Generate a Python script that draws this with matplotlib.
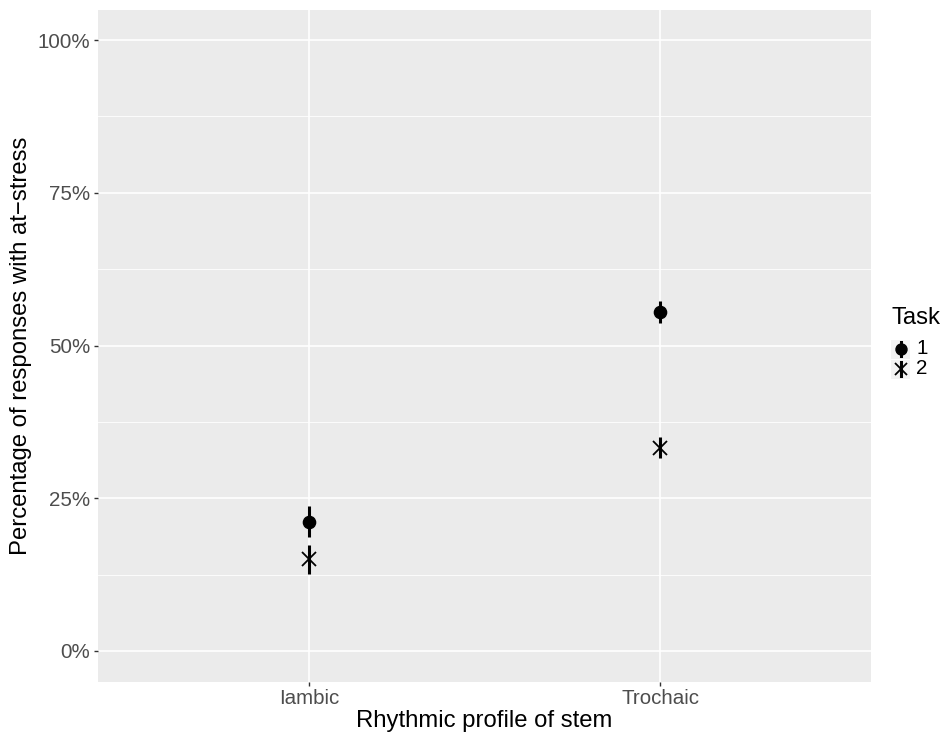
import matplotlib
matplotlib.use('Agg')
import matplotlib.pyplot as plt
from matplotlib.patches import Rectangle
from matplotlib.ticker import FixedLocator, PercentFormatter

plt.rcParams['font.family'] = ['Liberation Sans', 'DejaVu Sans']

# Data (proportions)
categories = ['Iambic', 'Trochaic']
task_labels = ['1', '2']
task1_mean = [0.211, 0.555]
task1_lo = [0.187, 0.537]
task1_hi = [0.237, 0.573]
task2_mean = [0.150, 0.332]
task2_lo = [0.126, 0.316]
task2_hi = [0.173, 0.350]

W, H = 943, 732
fig = plt.figure(figsize=(W / 100, H / 100), dpi=100)
left, right, top, bottom = 98, 871, 9.5, 681.5
ax = fig.add_axes([left / W, 1 - bottom / H, (right - left) / W, (bottom - top) / H])
ax.set_facecolor('#EBEBEB')
for s in ax.spines.values():
    s.set_visible(False)

x = list(range(len(categories)))
series = [
    (task1_mean, task1_lo, task1_hi, dict(marker='o', markersize=8.8, color='black')),
    (task2_mean, task2_lo, task2_hi, dict(marker='x', markersize=9.5, markeredgewidth=1.3, color='black')),
]
for mean, lo, hi, style in series:
    ax.vlines(x, lo, hi, color='black', linewidth=2.2, zorder=3)
    ax.plot(x, mean, linestyle='none', zorder=4, **style)

ax.set_xlim(-0.6, 1.6)
ax.set_ylim(-0.05, 1.05)
ax.yaxis.set_major_locator(FixedLocator([0, 0.25, 0.5, 0.75, 1.0]))
ax.yaxis.set_minor_locator(FixedLocator([0.125, 0.375, 0.625, 0.875]))
ax.yaxis.set_major_formatter(PercentFormatter(1.0, decimals=0))
ax.set_xticks(x)
ax.set_xticklabels(categories)
ax.set_axisbelow(True)
ax.grid(which='major', color='white', linewidth=1.2)
ax.grid(which='minor', axis='y', color='white', linewidth=0.6)
ax.tick_params(which='major', length=3, width=1.0, color='#333333',
               labelsize=14.8, labelcolor='#4D4D4D', pad=2.5)
ax.tick_params(which='minor', length=0)

ax.set_xlabel('Rhythmic profile of stem', fontsize=17.2, labelpad=1)
ax.set_ylabel('Percentage of responses with at\u2212stress', fontsize=17.2, labelpad=4)

# Legend drawn in pixel coordinates
lax = fig.add_axes([0, 0, 1, 1])
lax.set_xlim(0, W)
lax.set_ylim(H, 0)
lax.axis('off')
lax.text(891, 318, 'Task', fontsize=17.2, va='center', ha='left')
key_w, key_h = 19, 20
key_x, key_y0 = 891, 339
for i, (lab, style) in enumerate(zip(task_labels, [s[3] for s in series])):
    y0 = key_y0 + i * key_h
    lax.add_patch(Rectangle((key_x, y0 + 0.5), key_w, key_h - 1, facecolor='#F2F2F2',
                            edgecolor='none'))
    cx, cy = key_x + key_w / 2, y0 + key_h / 2
    lax.plot([cx, cx], [y0 + 3, y0 + key_h - 3], color='black', linewidth=2.2)
    st = dict(style)
    st['markersize'] = st['markersize'] * 0.9
    lax.plot([cx], [cy], linestyle='none', **st)
    lax.text(key_x + key_w + 6, cy, lab, fontsize=14.8, va='center', ha='left')

fig.savefig('out.png', dpi=100)
